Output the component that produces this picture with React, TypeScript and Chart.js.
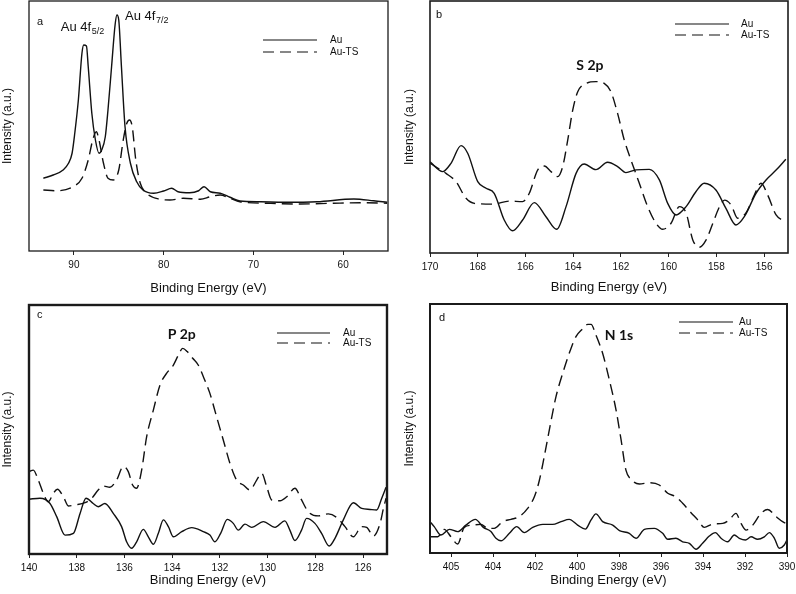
import React, { useEffect, useRef } from "react";
import { Chart, registerables } from "chart.js";

Chart.register(...registerables);

const FONT = "'Liberation Sans', Arial, Helvetica, sans-serif";
const PEAK_FONT = "Lato, 'Noto Sans', sans-serif";

// ---------- shared text ----------
const seriesNames = ["Au", "Au-TS"];
const xTitle = "Binding Energy (eV)";
const yTitle = "Intensity (a.u.)";

// ---------- panel a : Au 4f ----------
const aAuEnergy = [93.4, 92.3, 91.2, 90.6, 90.2, 89.9, 89.5, 89.1, 88.9, 88.6, 88.4, 88.0, 87.6, 87.2, 86.9, 86.5, 86.2, 85.8, 85.4, 85.2, 85.0, 84.7, 84.3, 83.7, 83.0, 82.3, 81.1, 80.0, 79.1, 78.4, 77.1, 76.1, 75.5, 74.8, 73.7, 72.6, 71.5, 69.2, 66.6, 62.9, 58.8, 56.6, 55.1];
const aAuIntensity = [29.1, 30.4, 32.4, 35.1, 39.1, 47.1, 60.4, 79.1, 82.4, 82.0, 73.7, 55.1, 44.4, 39.1, 40.4, 45.7, 56.4, 73.7, 90.7, 94.4, 92.4, 73.7, 49.7, 35.1, 27.7, 24.4, 23.1, 24.0, 25.1, 23.7, 23.3, 24.1, 25.7, 23.7, 23.1, 21.5, 20.0, 19.7, 19.5, 19.7, 20.8, 20.1, 19.5];
const aTsEnergy = [93.4, 92.0, 90.1, 89.1, 88.4, 87.9, 87.5, 87.2, 86.7, 86.2, 85.6, 85.0, 84.5, 84.1, 83.8, 83.5, 83.1, 82.6, 81.9, 80.4, 79.3, 77.8, 75.9, 74.8, 73.7, 72.6, 71.5, 68.5, 64.8, 61.1, 57.4, 55.1];
const aTsIntensity = [24.4, 24.1, 25.7, 29.1, 36.4, 44.4, 47.7, 44.4, 35.1, 29.1, 28.4, 32.4, 44.4, 51.1, 52.4, 49.7, 36.4, 27.1, 23.1, 20.7, 20.4, 21.1, 20.7, 21.7, 22.4, 21.1, 19.7, 19.1, 18.8, 19.1, 19.3, 19.1];
const aTicks = [90, 80, 70, 60];
const aTickLabels = ["90", "80", "70", "60"];

// ---------- panel b : S 2p ----------
const bAuEnergy = [170.0, 169.47, 169.12, 168.7, 168.42, 168.0, 167.65, 167.31, 166.89, 166.54, 166.12, 165.63, 165.14, 164.69, 164.3, 163.88, 163.54, 163.05, 162.56, 162.14, 161.79, 161.37, 160.81, 160.39, 160.04, 159.69, 159.27, 158.86, 158.51, 158.02, 157.6, 157.18, 156.83, 156.34, 155.92, 155.5, 155.09];
const bAuIntensity = [36.2, 32.3, 35.6, 42.6, 39.6, 28.3, 25.7, 23.7, 13.1, 8.8, 13.1, 20.0, 14.4, 9.4, 18.4, 31.6, 35.3, 33.1, 36.0, 34.3, 31.9, 33.0, 33.2, 29.0, 19.7, 15.1, 18.4, 24.3, 27.7, 25.0, 17.7, 11.1, 14.4, 23.7, 29.0, 32.9, 37.2];
const bTsEnergy = [170.0, 169.33, 168.91, 168.49, 168.14, 167.37, 166.68, 166.12, 165.84, 165.49, 165.21, 164.93, 164.65, 164.44, 164.23, 164.02, 163.81, 163.46, 163.05, 162.7, 162.42, 162.14, 161.86, 161.58, 161.23, 160.88, 160.53, 160.25, 159.9, 159.55, 159.27, 158.99, 158.71, 158.43, 158.15, 157.87, 157.66, 157.38, 157.11, 156.76, 156.41, 156.13, 155.85, 155.5, 155.09];
const bTsIntensity = [35.6, 31.6, 28.3, 21.7, 19.7, 19.4, 20.6, 20.4, 23.7, 32.9, 34.5, 32.3, 30.3, 34.3, 44.8, 56.7, 64.0, 67.3, 68.0, 67.3, 64.0, 55.4, 44.8, 36.9, 27.7, 18.4, 11.8, 9.4, 11.8, 18.4, 15.9, 5.2, 2.3, 5.2, 11.8, 18.4, 21.0, 19.0, 13.8, 15.9, 23.0, 27.7, 23.0, 15.1, 12.4];
const bTicks = [170, 168, 166, 164, 162, 160, 158, 156];
const bTickLabels = ["170", "168", "166", "164", "162", "160", "158", "156"];

// ---------- panel c : P 2p ----------
const cAuEnergy = [139.99, 139.54, 139.12, 138.84, 138.49, 138.14, 137.86, 137.61, 137.31, 137.1, 136.82, 136.47, 136.12, 135.91, 135.7, 135.49, 135.21, 135.0, 134.79, 134.58, 134.37, 134.16, 133.95, 133.6, 133.18, 132.7, 132.42, 132.21, 131.97, 131.69, 131.44, 131.23, 130.95, 130.67, 130.18, 129.69, 129.28, 129.07, 128.86, 128.58, 128.37, 128.02, 127.74, 127.42, 127.18, 126.83, 126.41, 126.06, 125.71, 125.43, 125.22, 125.04];
const cAuIntensity = [22.0, 22.4, 20.3, 15.0, 7.6, 8.3, 16.3, 22.4, 20.3, 19.0, 20.3, 16.3, 11.0, 4.9, 2.3, 4.9, 9.9, 6.9, 3.9, 8.3, 13.7, 11.0, 6.9, 9.0, 10.6, 9.0, 7.6, 4.9, 8.3, 13.9, 12.3, 9.6, 12.0, 10.7, 13.0, 10.7, 13.3, 9.6, 5.4, 9.6, 14.3, 12.3, 8.3, 3.2, 6.3, 13.7, 20.6, 18.3, 17.9, 17.7, 22.4, 26.8];
const cTsEnergy = [139.99, 139.82, 139.61, 139.4, 139.19, 138.98, 138.81, 138.56, 138.35, 138.07, 137.65, 137.37, 137.1, 136.89, 136.61, 136.33, 136.05, 135.84, 135.66, 135.49, 135.28, 135.07, 134.79, 134.51, 134.23, 133.95, 133.74, 133.56, 133.37, 133.14, 132.91, 132.67, 132.42, 132.14, 131.86, 131.58, 131.3, 131.02, 130.74, 130.46, 130.25, 130.04, 129.83, 129.48, 129.2, 128.86, 128.58, 128.3, 127.88, 127.46, 127.11, 126.76, 126.41, 126.06, 125.85, 125.57, 125.29, 125.15, 125.04];
const cTsIntensity = [33.1, 33.7, 29.7, 24.4, 21.0, 24.4, 26.0, 23.0, 19.3, 19.7, 20.6, 22.4, 25.7, 27.3, 26.8, 29.7, 35.1, 33.1, 27.7, 26.4, 33.7, 47.1, 57.8, 67.9, 72.6, 75.9, 79.9, 82.6, 81.3, 78.6, 75.9, 70.6, 64.5, 55.1, 45.8, 36.4, 29.7, 27.7, 25.7, 29.7, 32.4, 27.0, 21.7, 21.4, 23.0, 26.4, 21.7, 17.0, 15.3, 16.1, 14.7, 11.0, 6.9, 11.0, 10.7, 7.2, 12.3, 18.3, 22.4];
const cTicks = [140, 138, 136, 134, 132, 130, 128, 126];
const cTickLabels = ["140", "138", "136", "134", "132", "130", "128", "126"];

// ---------- panel d : N 1s ----------
const dAuEnergy = [407.0, 406.8, 406.48, 406.08, 405.68, 405.29, 404.84, 404.46, 404.1, 403.86, 403.62, 403.22, 402.87, 402.51, 402.11, 401.63, 401.16, 400.76, 400.37, 399.97, 399.6, 399.33, 399.1, 398.78, 398.3, 397.98, 397.51, 397.19, 396.79, 396.32, 395.92, 395.68, 395.29, 394.97, 394.65, 394.33, 394.02, 393.7, 393.41, 393.14, 392.82, 392.51, 392.27, 391.98, 391.71, 391.4, 391.08, 390.84, 390.6, 390.37, 390.13, 389.97];
const dAuIntensity = [12.6, 10.6, 7.2, 9.5, 8.6, 11.2, 13.5, 10.3, 8.6, 5.9, 4.9, 7.9, 10.6, 8.2, 10.3, 11.5, 11.5, 12.6, 13.5, 11.2, 9.6, 13.3, 15.7, 12.6, 11.2, 9.0, 7.9, 5.9, 9.5, 9.9, 7.9, 5.5, 5.9, 4.5, 3.9, 1.5, 3.9, 6.8, 8.2, 5.9, 4.5, 7.2, 5.9, 5.2, 6.5, 5.5, 6.5, 8.2, 5.9, 1.9, 3.2, 5.9];
const dTsEnergy = [407.0, 406.63, 406.32, 406.0, 405.68, 405.37, 404.97, 404.57, 404.25, 403.94, 403.54, 403.14, 402.75, 402.35, 402.03, 401.8, 401.56, 401.29, 401.0, 400.68, 400.37, 400.05, 399.76, 399.49, 399.33, 399.1, 398.78, 398.46, 398.14, 397.9, 397.67, 397.43, 397.03, 396.56, 396.08, 395.68, 395.29, 394.97, 394.57, 394.25, 393.94, 393.54, 393.06, 392.75, 392.43, 392.19, 391.95, 391.63, 391.24, 390.92, 390.52, 390.21, 389.97];
const dTsIntensity = [6.5, 6.5, 9.5, 6.5, 3.6, 10.3, 11.2, 11.5, 9.9, 9.9, 12.6, 13.5, 14.6, 17.9, 22.6, 28.9, 38.7, 50.7, 62.8, 72.2, 80.2, 86.9, 89.8, 91.8, 91.8, 87.6, 80.2, 69.5, 57.4, 45.4, 33.3, 29.6, 27.7, 28.2, 27.3, 24.0, 22.6, 20.0, 16.2, 13.3, 10.3, 11.6, 11.9, 13.3, 15.9, 11.9, 9.2, 11.2, 15.9, 17.5, 14.6, 12.6, 11.6];
const dTicks = [406, 404, 402, 400, 398, 396, 394, 392, 390];
const dTickLabels = ["405", "404", "402", "400", "398", "396", "394", "392", "390"];

function pts(xs: number[], ys: number[]) {
  return xs.map((x, i) => ({ x, y: ys[i] }));
}

type Peak = { x: number; y: number; text: string; sub?: string; align: "left" | "center"; bold?: boolean };

type PanelCfg = {
  left: number;
  top: number;
  xMin: number;
  xMax: number;
  ticks: number[];
  tickLabels: string[];
  au: { x: number; y: number }[];
  ts: { x: number; y: number }[];
  letter: string;
  letterOff: [number, number];
  legendLine: [number, number];
  legendText: number;
  legendDy: [number, number];
  peaks: Peak[];
  pad: { left: number; top: number; right: number; bottom: number };
  yWidth: number;
  xHeight: number;
  yTitlePad: number;
  xTitlePad: number;
  frame: number;
};

const decorPlugin = {
  id: "decor",
  afterDatasetsDraw(chart: any, _args: any, opts: any) {
    const { ctx, chartArea: ca, scales } = chart;
    ctx.save();
    ctx.strokeStyle = "#1b1b1b";
    ctx.lineWidth = opts.frame;
    ctx.setLineDash([]);
    ctx.strokeRect(ca.left, ca.top, ca.right - ca.left, ca.bottom - ca.top);

    ctx.fillStyle = "#111";
    ctx.textBaseline = "middle";
    ctx.textAlign = "left";
    ctx.font = `11px ${FONT}`;
    ctx.fillText(opts.letter, ca.left + opts.letterOff[0], ca.top + opts.letterOff[1]);

    // legend
    chart.data.datasets.forEach((ds: any, i: number) => {
      const y = ca.top + opts.legendDy[i];
      ctx.beginPath();
      ctx.strokeStyle = "#111";
      ctx.lineWidth = 1.2;
      ctx.setLineDash(ds.borderDash || []);
      ctx.moveTo(ca.right + opts.legendLine[0], y);
      ctx.lineTo(ca.right + opts.legendLine[1], y);
      ctx.stroke();
      ctx.setLineDash([]);
      ctx.font = `10px ${FONT}`;
      ctx.fillText(ds.label, ca.right + opts.legendText, y);
    });

    // peak labels
    for (const p of opts.peaks as Peak[]) {
      const x = scales.x.getPixelForValue(p.x);
      const y = scales.y.getPixelForValue(p.y);
      if (p.bold) {
        ctx.font = `bold 14px ${PEAK_FONT}`;
      } else {
        ctx.font = `13px ${FONT}`;
      }
      ctx.textAlign = p.align;
      ctx.fillText(p.text, x, y);
      if (p.sub) {
        const w = ctx.measureText(p.text).width;
        ctx.font = `9px ${FONT}`;
        ctx.textAlign = "left";
        ctx.fillText(p.sub, x + w + 0.5, y + 4);
      }
    }
    ctx.restore();
  },
};

const panels: PanelCfg[] = [
  {
    left: 0, top: 0, xMin: 55, xMax: 95, ticks: aTicks, tickLabels: aTickLabels,
    au: pts(aAuEnergy, aAuIntensity), ts: pts(aTsEnergy, aTsIntensity),
    letter: "a", letterOff: [8, 21],
    legendLine: [-125, -71], legendText: -58, legendDy: [39, 51],
    peaks: [
      { x: 91.45, y: 89.5, text: "Au 4f", sub: "5/2", align: "left" },
      { x: 84.3, y: 93.7, text: "Au 4f", sub: "7/2", align: "left" },
    ],
    pad: { left: 0, top: 1, right: 10, bottom: 0 }, yWidth: 29, xHeight: 46, yTitlePad: 0, xTitlePad: 1, frame: 1.3,
  },
  {
    left: 398, top: 0, xMin: 155, xMax: 170, ticks: bTicks, tickLabels: bTickLabels,
    au: pts(bAuEnergy, bAuIntensity), ts: pts(bTsEnergy, bTsIntensity),
    letter: "b", letterOff: [6, 14],
    legendLine: [-113, -59], legendText: -47, legendDy: [23, 34],
    peaks: [{ x: 163.3, y: 74.6, text: "S 2p", align: "center", bold: true }],
    pad: { left: 0, top: 1, right: 8, bottom: 0 }, yWidth: 32, xHeight: 44, yTitlePad: 4, xTitlePad: 2, frame: 1.6,
  },
  {
    left: 0, top: 297, xMin: 125, xMax: 140, ticks: cTicks, tickLabels: cTickLabels,
    au: pts(cAuEnergy, cAuIntensity), ts: pts(cTsEnergy, cTsIntensity),
    letter: "c", letterOff: [8, 10],
    legendLine: [-110, -57], legendText: -44, legendDy: [28, 38],
    peaks: [{ x: 133.6, y: 88, text: "P 2p", align: "center", bold: true }],
    pad: { left: 0, top: 8, right: 11, bottom: 0 }, yWidth: 29, xHeight: 40, yTitlePad: 0, xTitlePad: 6, frame: 2.4,
  },
  {
    left: 398, top: 297, xMin: 390, xMax: 407, ticks: dTicks, tickLabels: dTickLabels,
    au: pts(dAuEnergy, dAuIntensity), ts: pts(dTsEnergy, dTsIntensity),
    letter: "d", letterOff: [9, 14],
    legendLine: [-108, -54], legendText: -48, legendDy: [18, 29],
    peaks: [{ x: 398.0, y: 87.3, text: "N 1s", align: "center", bold: true }],
    pad: { left: 0, top: 7, right: 9, bottom: 0 }, yWidth: 32, xHeight: 41, yTitlePad: 4, xTitlePad: 6, frame: 2,
  },
];

function Panel({ cfg }: { cfg: PanelCfg }) {
  const ref = useRef<HTMLCanvasElement | null>(null);
  useEffect(() => {
    if (!ref.current) return;
    const chart = new Chart(ref.current, {
      type: "line",
      data: {
        datasets: [
          {
            label: seriesNames[0],
            data: cfg.au,
            borderColor: "#111",
            borderWidth: 1.4,
            pointRadius: 0,
            fill: false,
            cubicInterpolationMode: "monotone",
          },
          {
            label: seriesNames[1],
            data: cfg.ts,
            borderColor: "#111",
            borderWidth: 1.4,
            borderDash: [11, 6],
            pointRadius: 0,
            fill: false,
            cubicInterpolationMode: "monotone",
          },
        ],
      },
      options: {
        animation: false,
        responsive: false,
        devicePixelRatio: 1,
        events: [],
        layout: { padding: cfg.pad },
        plugins: {
          legend: { display: false },
          tooltip: { enabled: false },
          decor: {
            frame: cfg.frame,
            letter: cfg.letter,
            letterOff: cfg.letterOff,
            legendLine: cfg.legendLine,
            legendText: cfg.legendText,
            legendDy: cfg.legendDy,
            peaks: cfg.peaks,
          },
        } as any,
        scales: {
          x: {
            type: "linear",
            position: "bottom",
            reverse: true,
            min: cfg.xMin,
            max: cfg.xMax,
            afterBuildTicks: (scale: any) => {
              scale.ticks = cfg.ticks.map((v) => ({ value: v }));
            },
            afterFit: (scale: any) => {
              scale.height = cfg.xHeight;
              scale.paddingLeft = 0;
              scale.paddingRight = 0;
            },
            ticks: {
              autoSkip: false,
              maxRotation: 0,
              minRotation: 0,
              padding: 4,
              color: "#111",
              font: { family: FONT, size: 10 },
              callback: (_v: any, i: number) => cfg.tickLabels[i],
            },
            grid: {
              display: true,
              drawOnChartArea: false,
              drawTicks: true,
              tickLength: 4,
              color: "#222",
              lineWidth: 1,
            },
            border: { display: false },
            title: {
              display: true,
              text: xTitle,
              color: "#111",
              font: { family: FONT, size: 13 },
              padding: { top: 0, bottom: cfg.xTitlePad },
            },
          },
          y: {
            type: "linear",
            min: 0,
            max: 100,
            afterFit: (scale: any) => {
              scale.width = cfg.yWidth;
              scale.paddingTop = 0;
              scale.paddingBottom = 0;
            },
            ticks: { display: false },
            grid: { display: false },
            border: { display: false },
            title: {
              display: true,
              text: yTitle,
              color: "#111",
              font: { family: FONT, size: 12 },
              padding: { top: cfg.yTitlePad, bottom: 0 },
            },
          },
        },
      } as any,
      plugins: [decorPlugin as any],
    });
    return () => chart.destroy();
  }, [cfg]);
  return (
    <canvas
      ref={ref}
      width={398}
      height={297}
      style={{ position: "absolute", left: cfg.left, top: cfg.top, width: 398, height: 297 }}
    />
  );
}

export default function App() {
  return (
    <div style={{ position: "absolute", left: 0, top: 0, width: 796, height: 594, background: "#fff", overflow: "hidden" }}>
      {panels.map((p, i) => (
        <Panel key={i} cfg={p} />
      ))}
    </div>
  );
}
